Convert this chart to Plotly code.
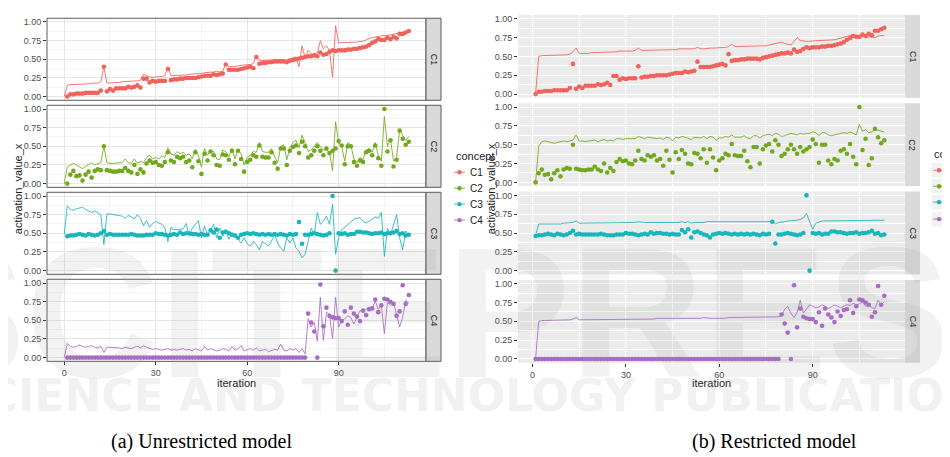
import plotly.graph_objects as go

# ---------------- data ----------------
concepts = ["C1", "C2", "C3", "C4"]
iter_line_left = list(range(0, 114))
iter_points = list(range(1, 114))
iter_line_right = list(range(1, 114))

# observed activation values (points), iterations 1..113
pts_c1 = [0.00, 0.03, 0.03, 0.04, 0.04, 0.04, 0.05, 0.05, 0.05, 0.05, 0.05, 0.08,
          0.40,
          0.07, 0.10, 0.08, 0.11, 0.11, 0.11, 0.11, 0.13, 0.12, 0.13, 0.15, 0.12,
          0.24, 0.24,
          0.19, 0.21, 0.20, 0.21, 0.21, 0.21,
          0.37,
          0.22, 0.23, 0.23, 0.24, 0.24, 0.25, 0.25, 0.25, 0.25, 0.26, 0.27, 0.28, 0.28, 0.28, 0.30, 0.29, 0.30, 0.31,
          0.43,
          0.36, 0.36, 0.36, 0.36, 0.37, 0.38, 0.39, 0.40, 0.38,
          0.53,
          0.44, 0.45, 0.45, 0.46, 0.46, 0.47, 0.47, 0.47, 0.47, 0.46, 0.48, 0.49, 0.50, 0.51, 0.52, 0.53, 0.54, 0.54, 0.55, 0.54,
          0.59,
          0.56, 0.57, 0.60, 0.62, 0.61, 0.62, 0.62, 0.62, 0.63, 0.63, 0.64, 0.64, 0.65, 0.66, 0.67, 0.69, 0.72, 0.74, 0.77, 0.76,
          0.76, 0.79, 0.77, 0.80, 0.78, 0.84, 0.84, 0.86, 0.88]
pts_c2 = [0.00, 0.12, 0.17, 0.10, 0.11, 0.04, 0.12, 0.16, 0.08, 0.17, 0.19, 0.18, 0.50, 0.18, 0.17, 0.16, 0.16, 0.17, 0.17, 0.21,
          0.17, 0.15, 0.25, 0.13, 0.19, 0.15, 0.27, 0.31, 0.28, 0.29, 0.25, 0.24, 0.29, 0.42, 0.31, 0.29, 0.36, 0.34, 0.36, 0.29,
          0.31, 0.22, 0.42, 0.30, 0.13, 0.40, 0.31, 0.43, 0.38, 0.25, 0.24, 0.39, 0.38, 0.32, 0.44, 0.26, 0.44, 0.33, 0.16, 0.29,
          0.32, 0.38, 0.36, 0.51, 0.36, 0.35, 0.35, 0.42, 0.28, 0.20, 0.47, 0.47, 0.25, 0.44, 0.49, 0.51, 0.41, 0.56, 0.50, 0.35,
          0.38, 0.44, 0.50, 0.44, 0.38, 0.47, 0.41, 0.44, 0.47, 0.57, 0.51, 0.26, 0.50, 0.50, 0.29, 0.24, 0.31, 0.29, 0.42, 0.44,
          0.38, 0.51, 0.34, 0.24, 1.00, 0.43, 0.58, 0.23, 0.32, 0.71, 0.60, 0.52, 0.56]
pts_c3 = [0.46, 0.47, 0.47, 0.48, 0.49, 0.48, 0.47, 0.49, 0.48, 0.47, 0.48, 0.50, 0.53, 0.48, 0.49, 0.48, 0.48, 0.48, 0.48, 0.48,
          0.48, 0.49, 0.48, 0.47, 0.47, 0.47, 0.48, 0.48, 0.48, 0.50, 0.49, 0.49, 0.48, 0.47, 0.48, 0.49, 0.48, 0.51, 0.49, 0.50,
          0.50, 0.49, 0.49, 0.48, 0.49, 0.48, 0.48, 0.54, 0.51, 0.55, 0.44, 0.51, 0.52, 0.50, 0.48, 0.47, 0.44, 0.48, 0.49, 0.50,
          0.49, 0.50, 0.49, 0.48, 0.49, 0.48, 0.49, 0.48, 0.49, 0.48, 0.49, 0.48, 0.47, 0.49, 0.48, 0.49, 0.65, 0.36, 0.48, 0.48,
          0.49, 0.50, 0.49, 0.48, 0.47, 0.48, 0.50, 1.00, 0.00, 0.50, 0.49, 0.50, 0.48, 0.49, 0.49, 0.52, 0.52, 0.51, 0.51, 0.50,
          0.49, 0.50, 0.50, 0.51, 0.49, 0.50, 0.50, 0.51, 0.53, 0.49, 0.50, 0.47, 0.48]
pts_c4 = [0.00, 0.00, 0.00, 0.00, 0.00, 0.00, 0.00, 0.00, 0.00, 0.00, 0.00, 0.00, 0.00, 0.00, 0.00, 0.00, 0.00, 0.00, 0.00, 0.00,
          0.00, 0.00, 0.00, 0.00, 0.00, 0.00, 0.00, 0.00, 0.00, 0.00, 0.00, 0.00, 0.00, 0.00, 0.00, 0.00, 0.00, 0.00, 0.00, 0.00,
          0.00, 0.00, 0.00, 0.00, 0.00, 0.00, 0.00, 0.00, 0.00, 0.00, 0.00, 0.00, 0.00, 0.00, 0.00, 0.00, 0.00, 0.00, 0.00, 0.00,
          0.00, 0.00, 0.00, 0.00, 0.00, 0.00, 0.00, 0.00, 0.00, 0.00, 0.00, 0.00, 0.00, 0.00, 0.00, 0.00, 0.00, 0.00, 0.00,
          0.59, 0.47, 0.35, 0.00, 0.98, 0.42, 0.67, 0.56, 0.54, 0.53, 0.53, 0.49, 0.62, 0.44, 0.67, 0.59, 0.55, 0.49, 0.63, 0.57,
          0.65, 0.66, 0.78, 0.61, 0.70, 0.79, 0.78, 0.75, 0.72, 0.56, 0.62, 0.97, 0.72, 0.84]

# (a) unrestricted model, model output lines, iterations 0..113
left_c1 = [0.00,
           0.15, 0.16, 0.16, 0.16, 0.17, 0.17, 0.17, 0.17, 0.18, 0.18, 0.18, 0.20,
           0.40,
           0.18, 0.18, 0.19, 0.19, 0.19, 0.20, 0.20, 0.20, 0.21, 0.21, 0.21, 0.22,
           0.30, 0.28, 0.26, 0.26, 0.26, 0.26, 0.27, 0.28,
           0.40,
           0.28, 0.28, 0.28, 0.29, 0.29, 0.29, 0.30, 0.30, 0.30, 0.31, 0.31, 0.32, 0.32, 0.33, 0.33, 0.34, 0.33, 0.34,
           0.44,
           0.40, 0.40, 0.41, 0.41, 0.42, 0.42, 0.43, 0.43, 0.44,
           0.55,
           0.48, 0.48, 0.49, 0.49, 0.49, 0.50, 0.50, 0.50, 0.50, 0.49, 0.51, 0.52,
           0.53, 0.40, 0.68, 0.52, 0.62, 0.57, 0.58, 0.58, 0.75, 0.64, 0.68, 0.62, 0.26, 0.95, 0.72,
           0.72, 0.72, 0.72, 0.72, 0.73, 0.73, 0.74, 0.74, 0.76, 0.78, 0.79, 0.80, 0.81, 0.81, 0.82, 0.82, 0.83, 0.84, 0.85,
           0.86, 0.86, 0.87, 0.88]
left_c2 = [0.00, 0.22, 0.25, 0.27, 0.25, 0.22, 0.20, 0.23, 0.25, 0.28, 0.25, 0.27, 0.28, 0.50, 0.28, 0.27, 0.27, 0.27, 0.27, 0.28,
           0.33, 0.28, 0.27, 0.33, 0.27, 0.30, 0.28, 0.35, 0.38, 0.33, 0.35, 0.33, 0.37, 0.35, 0.48, 0.40, 0.38, 0.43, 0.40, 0.42,
           0.38, 0.40, 0.33, 0.46, 0.38, 0.22, 0.47, 0.38, 0.45, 0.43, 0.33, 0.32, 0.45, 0.43, 0.36, 0.47, 0.33, 0.46, 0.40, 0.25,
           0.35, 0.38, 0.43, 0.42, 0.55, 0.43, 0.42, 0.42, 0.47, 0.36, 0.28, 0.50, 0.52, 0.32, 0.48, 0.55, 0.58, 0.48, 0.65, 0.55,
           0.43, 0.45, 0.50, 0.55, 0.50, 0.45, 0.45, 0.42, 0.17, 0.83, 0.55, 0.50, 0.30, 0.55, 0.52, 0.33, 0.28, 0.35, 0.32, 0.45,
           0.47, 0.42, 0.55, 0.38, 0.30, 0.90, 0.50, 0.60, 0.30, 0.35, 0.72, 0.65, 0.58, 0.63]
left_c3 = [0.48, 0.87, 0.82, 0.81, 0.83, 0.84, 0.85, 0.82, 0.80, 0.78, 0.80, 0.78, 0.75, 0.35, 0.76, 0.76, 0.75, 0.75, 0.74, 0.73,
           0.70, 0.74, 0.72, 0.69, 0.75, 0.70, 0.60, 0.67, 0.58, 0.63, 0.66, 0.64, 0.62, 0.57, 0.39, 0.58, 0.55, 0.55, 0.55, 0.56,
           0.63, 0.46, 0.57, 0.62, 0.67, 0.44, 0.60, 0.48, 0.55, 0.62, 0.44, 0.57, 0.46, 0.55, 0.42, 0.51, 0.45, 0.42, 0.37, 0.44,
           0.36, 0.33, 0.39, 0.35, 0.28, 0.39, 0.36, 0.33, 0.40, 0.48, 0.37, 0.30, 0.26, 0.44, 0.37, 0.44, 0.30, 0.26, 0.17, 0.22,
           0.39, 0.57, 0.48, 0.78, 0.62, 0.66, 0.73, 0.62, 0.89, 0.22, 0.44, 0.55, 0.58, 0.62, 0.66, 0.69, 0.70, 0.71, 0.66, 0.64,
           0.66, 0.69, 0.72, 0.70, 0.78, 0.19, 0.57, 0.48, 0.62, 0.75, 0.44, 0.28, 0.53, 0.48]
left_c4 = [0.00, 0.19, 0.15, 0.14, 0.15, 0.17, 0.15, 0.14, 0.15, 0.16, 0.14, 0.13, 0.15, 0.07, 0.14, 0.14, 0.14, 0.14, 0.13, 0.12,
           0.14, 0.13, 0.12, 0.14, 0.15, 0.13, 0.16, 0.14, 0.12, 0.11, 0.12, 0.11, 0.10, 0.11, 0.12, 0.10, 0.11, 0.10, 0.11, 0.12,
           0.10, 0.11, 0.09, 0.12, 0.10, 0.09, 0.15, 0.10, 0.12, 0.11, 0.09, 0.10, 0.12, 0.11, 0.09, 0.15, 0.10, 0.12, 0.16, 0.09,
           0.11, 0.12, 0.10, 0.13, 0.09, 0.10, 0.11, 0.08, 0.10, 0.11, 0.10, 0.18, 0.10, 0.09, 0.12, 0.10, 0.12, 0.07, 0.12, 0.05,
           0.52, 0.41, 0.47, 0.22, 0.81, 0.23, 0.61, 0.58, 0.25, 0.81, 0.41, 0.50, 0.52, 0.56, 0.54, 0.45, 0.54, 0.63, 0.61, 0.65,
           0.67, 0.65, 0.76, 0.65, 0.70, 0.32, 0.74, 0.70, 0.74, 0.56, 0.41, 0.54, 0.77, 0.73]

# (b) restricted model, model output lines, iterations 1..113
right_c1 = [0.00, 0.50,
            0.51, 0.51, 0.51, 0.52, 0.52, 0.52, 0.52, 0.52, 0.52, 0.53,
            0.56, 0.61,
            0.54, 0.54, 0.54, 0.54, 0.55, 0.55, 0.55, 0.55, 0.55, 0.56, 0.56, 0.56, 0.56, 0.57, 0.57, 0.57, 0.57, 0.57, 0.58,
            0.61,
            0.58, 0.58, 0.58, 0.58, 0.58, 0.59, 0.59, 0.59, 0.59, 0.59, 0.59, 0.59, 0.60, 0.60, 0.60, 0.60, 0.60, 0.60,
            0.62,
            0.60, 0.60, 0.61, 0.61, 0.61, 0.61, 0.61, 0.62, 0.62,
            0.63, 0.66,
            0.63, 0.63, 0.63, 0.63, 0.63, 0.63, 0.64, 0.64, 0.64, 0.64, 0.64, 0.65, 0.66, 0.67, 0.68, 0.69,
            0.67, 0.66, 0.65, 0.70, 0.75, 0.71,
            0.70, 0.70, 0.70, 0.71, 0.71, 0.71, 0.71, 0.72, 0.72, 0.72, 0.72, 0.73, 0.74, 0.75, 0.77, 0.78, 0.79,
            0.78, 0.77, 0.76, 0.75, 0.76, 0.75, 0.75, 0.77, 0.78, 0.78]
right_c2 = [0.00, 0.48, 0.54, 0.55, 0.54, 0.53, 0.52, 0.53, 0.54, 0.55, 0.54, 0.55, 0.56, 0.63, 0.55, 0.55, 0.54, 0.55, 0.55, 0.56,
            0.54, 0.55, 0.57, 0.55, 0.56, 0.55, 0.58, 0.58, 0.57, 0.58, 0.58, 0.59, 0.58, 0.61, 0.59, 0.58, 0.60, 0.59, 0.59, 0.58,
            0.59, 0.57, 0.60, 0.59, 0.55, 0.60, 0.59, 0.61, 0.60, 0.58, 0.57, 0.60, 0.60, 0.59, 0.61, 0.58, 0.61, 0.60, 0.56, 0.59,
            0.59, 0.61, 0.60, 0.63, 0.60, 0.60, 0.60, 0.62, 0.59, 0.58, 0.62, 0.62, 0.59, 0.62, 0.63, 0.64, 0.62, 0.65, 0.64, 0.61,
            0.62, 0.64, 0.65, 0.64, 0.63, 0.65, 0.64, 0.65, 0.65, 0.67, 0.66, 0.62, 0.66, 0.66, 0.63, 0.62, 0.63, 0.63, 0.65, 0.66,
            0.65, 0.67, 0.65, 0.63, 0.77, 0.68, 0.70, 0.66, 0.67, 0.71, 0.69, 0.68, 0.67]
right_c3 = [0.47, 0.62, 0.62, 0.62, 0.62, 0.62, 0.62, 0.62, 0.62, 0.63, 0.63, 0.63, 0.64, 0.66, 0.63,
            0.63, 0.63, 0.63, 0.63, 0.63, 0.63, 0.63, 0.63, 0.63, 0.63,
            0.63, 0.64, 0.63, 0.64, 0.64, 0.64, 0.64, 0.64, 0.65, 0.64, 0.64, 0.64, 0.64, 0.64, 0.64,
            0.64, 0.64, 0.64, 0.64, 0.64, 0.64, 0.64, 0.65, 0.64, 0.65, 0.63, 0.64, 0.64, 0.64, 0.64, 0.65, 0.65, 0.65, 0.65, 0.65,
            0.65, 0.65, 0.65, 0.65, 0.65, 0.65, 0.65, 0.65, 0.66, 0.66, 0.66, 0.66, 0.66, 0.66, 0.66,
            0.65, 0.67, 0.62, 0.64, 0.65, 0.65, 0.66, 0.66, 0.66, 0.67, 0.68, 0.70, 0.76, 0.66, 0.55, 0.63, 0.65,
            0.66, 0.66, 0.66, 0.66, 0.66, 0.66, 0.66, 0.66, 0.67, 0.67, 0.67, 0.67, 0.67, 0.67, 0.67, 0.67, 0.67, 0.67, 0.67,
            0.67, 0.67]
right_c4 = [0.00, 0.50,
            0.51, 0.51, 0.51, 0.51, 0.52, 0.52, 0.52, 0.52, 0.52, 0.52, 0.53,
            0.55,
            0.52, 0.52, 0.52, 0.52, 0.52, 0.52, 0.52, 0.53, 0.53, 0.53, 0.53, 0.53, 0.53, 0.53, 0.53, 0.53,
            0.53, 0.53, 0.53, 0.53, 0.53, 0.53, 0.53, 0.53, 0.53, 0.54, 0.54, 0.54, 0.54, 0.54, 0.54, 0.54, 0.54, 0.54, 0.54, 0.54,
            0.54, 0.54, 0.54, 0.54, 0.55, 0.54, 0.54, 0.54, 0.54, 0.54,
            0.54, 0.54, 0.55, 0.55, 0.55, 0.55, 0.55, 0.55, 0.55, 0.55, 0.55, 0.55, 0.55, 0.56, 0.56, 0.56, 0.56, 0.56, 0.56,
            0.57, 0.66, 0.70, 0.61, 0.55, 0.62, 0.78, 0.61, 0.66, 0.72, 0.70, 0.68, 0.69, 0.72, 0.70, 0.67, 0.69, 0.72, 0.70, 0.68,
            0.70, 0.72, 0.71, 0.74, 0.72, 0.73, 0.76, 0.70, 0.72, 0.68, 0.67, 0.78, 0.72, 0.76]

y_ticks = [0.0, 0.25, 0.5, 0.75, 1.0]
y_ticktext = ["0.00", "0.25", "0.50", "0.75", "1.00"]
x_ticks = [0, 30, 60, 90]
x_ticktext = ["0", "30", "60", "90"]
captions = ["(a) Unrestricted model", "(b) Restricted model"]

points = [pts_c1, pts_c2, pts_c3, pts_c4]
left_lines = [left_c1, left_c2, left_c3, left_c4]
right_lines = [right_c1, right_c2, right_c3, right_c4]

# ---------------- styling / layout ----------------
W, H = 950, 457
def fx(x): return x / W
def fy(y): return 1 - y / H

PT_COL = ["#F0625B", "#72A81C", "#17B6BB", "#A86AC6"]
LN_COL = ["rgba(240,98,91,0.85)", "rgba(114,168,28,0.85)", "rgba(23,182,187,0.85)", "rgba(168,106,198,0.85)"]
FONT = "Liberation Sans Narrow, Liberation Sans, Arial, sans-serif"

panels = [
    dict(x0=39, x1=418, strip=(418, 433), xr=[-5.65, 118.65],
         rows=[(9.3, 91.7), (96.7, 179.1), (184.1, 266.5), (271.5, 353.9)],
         lines=left_lines, liter=iter_line_left, theme="bw"),
    dict(x0=510, x1=897, strip=(897, 912), xr=[-4.65, 119.65],
         rows=[(6.0, 89.2), (94.7, 177.9), (183.4, 266.6), (272.1, 355.3)],
         lines=right_lines, liter=iter_line_right, theme="grey"),
]

fig = go.Figure()
layout = dict(width=W, height=H, margin=dict(l=0, r=0, t=0, b=0), autosize=False,
              paper_bgcolor="white", plot_bgcolor="rgba(0,0,0,0)", showlegend=False,
              font=dict(family=FONT, color="#4d4d4d"))
shapes, annotations = [], []

n = 0
for p in panels:
    bw = p["theme"] == "bw"
    grid_major = "#e6e6e6" if bw else "white"
    grid_minor = "#f3f3f3" if bw else "white"
    for r in range(4):
        n += 1
        top, bot = p["rows"][r]
        xa = "xaxis" if n == 1 else f"xaxis{n}"
        ya = "yaxis" if n == 1 else f"yaxis{n}"
        xs = "x" if n == 1 else f"x{n}"
        ysn = "y" if n == 1 else f"y{n}"
        last = r == 3
        layout[xa] = dict(domain=[fx(p["x0"]), fx(p["x1"])], range=p["xr"], anchor=ysn,
                          tickmode="array", tickvals=x_ticks, ticktext=x_ticktext,
                          showticklabels=last, ticks="outside" if last else "", ticklen=3,
                          tickcolor="#333333", tickfont=dict(size=9, color="#4d4d4d", family=FONT),
                          showgrid=True, gridcolor=grid_major, gridwidth=1 if bw else 1.1,
                          minor=dict(tickvals=[15, 45, 75, 105], showgrid=True, gridcolor=grid_minor,
                                     gridwidth=0.6),
                          zeroline=False, showline=False, fixedrange=True)
        layout[ya] = dict(domain=[fy(bot), fy(top)], range=[-0.05, 1.05], anchor=xs,
                          tickmode="array", tickvals=y_ticks, ticktext=y_ticktext,
                          ticks="outside", ticklen=3, tickcolor="#333333",
                          tickfont=dict(size=9, color="#4d4d4d", family=FONT),
                          showgrid=True, gridcolor=grid_major, gridwidth=1 if bw else 1.1,
                          minor=dict(tickvals=[0.125, 0.375, 0.625, 0.875], showgrid=True,
                                     gridcolor=grid_minor, gridwidth=0.6),
                          zeroline=False, showline=False, fixedrange=True)
        # panel background
        shapes.append(dict(type="rect", xref="paper", yref="paper", layer="below",
                           x0=fx(p["x0"]), x1=fx(p["x1"]), y0=fy(bot), y1=fy(top),
                           fillcolor="white" if bw else "#ebebeb", line=dict(width=0)))
        if bw:
            shapes.append(dict(type="rect", xref="paper", yref="paper", layer="above",
                               x0=fx(p["x0"]), x1=fx(p["x1"]), y0=fy(bot), y1=fy(top),
                               fillcolor="rgba(0,0,0,0)", line=dict(color="#5a5a5a", width=1)))
        # strip
        s0, s1 = p["strip"]
        shapes.append(dict(type="rect", xref="paper", yref="paper", layer="above",
                           x0=fx(s0), x1=fx(s1), y0=fy(bot), y1=fy(top),
                           fillcolor="#d9d9d9",
                           line=dict(color="#5a5a5a", width=1) if bw else dict(width=0)))
        annotations.append(dict(text=concepts[r], xref="paper", yref="paper",
                                x=fx((s0 + s1) / 2), y=fy((top + bot) / 2), showarrow=False,
                                textangle=90, font=dict(size=9, color="#1a1a1a", family=FONT),
                                xanchor="center", yanchor="middle"))
        # traces
        fig.add_trace(go.Scatter(x=p["liter"], y=p["lines"][r], mode="lines",
                                 line=dict(color=LN_COL[r], width=1), xaxis=xs, yaxis=ysn,
                                 name=concepts[r], hoverinfo="skip"))
        fig.add_trace(go.Scatter(x=iter_points, y=points[r], mode="markers",
                                 marker=dict(color=PT_COL[r], size=4.6, line=dict(width=0)),
                                 xaxis=xs, yaxis=ysn, name=concepts[r]))

    # axis titles
    cx = (p["x0"] + p["x1"]) / 2
    annotations.append(dict(text="iteration", xref="paper", yref="paper", x=fx(cx), y=fy(376),
                            showarrow=False, xanchor="center", yanchor="middle",
                            font=dict(size=11, color="#1a1a1a", family=FONT)))

annotations.append(dict(text="activation_value_x", xref="paper", yref="paper", x=fx(10), y=fy(181),
                        showarrow=False, textangle=-90, xanchor="center", yanchor="middle",
                        font=dict(size=11, color="#1a1a1a", family=FONT)))
annotations.append(dict(text="activation_value_x", xref="paper", yref="paper", x=fx(483), y=fy(181),
                        showarrow=False, textangle=-90, xanchor="center", yanchor="middle",
                        font=dict(size=11, color="#1a1a1a", family=FONT)))

# legends (drawn manually: one for each sub-figure)
legends = [dict(tx=446, ty=148, kx0=446, kx1=457, lx=460, ys=[164, 180, 196, 212], keybg=None),
           dict(tx=924, ty=146, kx0=925, kx1=937, lx=940, ys=[162, 178, 194, 211], keybg="#f2f2f2")]
for lg in legends:
    annotations.append(dict(text="concept", xref="paper", yref="paper", x=fx(lg["tx"]), y=fy(lg["ty"]),
                            showarrow=False, xanchor="left", yanchor="middle",
                            font=dict(size=11, color="#1a1a1a", family=FONT)))
    for k, yy in enumerate(lg["ys"]):
        if lg["keybg"]:
            shapes.append(dict(type="rect", xref="paper", yref="paper", layer="below",
                               x0=fx(lg["kx0"] - 2), x1=fx(lg["kx1"] + 2), y0=fy(yy + 8), y1=fy(yy - 8),
                               fillcolor=lg["keybg"], line=dict(color="white", width=1)))
        shapes.append(dict(type="line", xref="paper", yref="paper",
                           x0=fx(lg["kx0"]), x1=fx(lg["kx1"]), y0=fy(yy), y1=fy(yy),
                           line=dict(color=LN_COL[k], width=1)))
        cxk = (lg["kx0"] + lg["kx1"]) / 2
        shapes.append(dict(type="circle", xref="paper", yref="paper",
                           x0=fx(cxk - 2.2), x1=fx(cxk + 2.2), y0=fy(yy + 2.2), y1=fy(yy - 2.2),
                           fillcolor=PT_COL[k], line=dict(width=0)))
        annotations.append(dict(text=concepts[k], xref="paper", yref="paper", x=fx(lg["lx"]), y=fy(yy),
                                showarrow=False, xanchor="left", yanchor="middle",
                                font=dict(size=10, color="#1a1a1a", family=FONT)))

# captions
annotations.append(dict(text=captions[0], xref="paper", yref="paper", x=fx(193), y=fy(434),
                        showarrow=False, xanchor="center", yanchor="middle",
                        font=dict(size=20, color="black", family="Liberation Serif, Times New Roman, serif")))
annotations.append(dict(text=captions[1], xref="paper", yref="paper", x=fx(766), y=fy(434),
                        showarrow=False, xanchor="center", yanchor="middle",
                        font=dict(size=20, color="black", family="Liberation Serif, Times New Roman, serif")))

# publisher watermark
annotations.append(dict(text="<b>SCITEPRESS</b>", xref="paper", yref="paper", x=fx(480), y=fy(305),
                        showarrow=False, xanchor="center", yanchor="middle",
                        font=dict(size=185, color="rgba(150,150,150,0.12)", family=FONT)))
annotations.append(dict(text="<b>SCIENCE AND TECHNOLOGY PUBLICATIONS</b>", xref="paper", yref="paper",
                        x=fx(475), y=fy(388), showarrow=False, xanchor="center", yanchor="middle",
                        font=dict(size=44, color="rgba(150,150,150,0.15)", family="DejaVu Sans, sans-serif")))

layout["shapes"] = shapes
layout["annotations"] = annotations
fig.update_layout(**layout)
fig.write_html("out.html")
